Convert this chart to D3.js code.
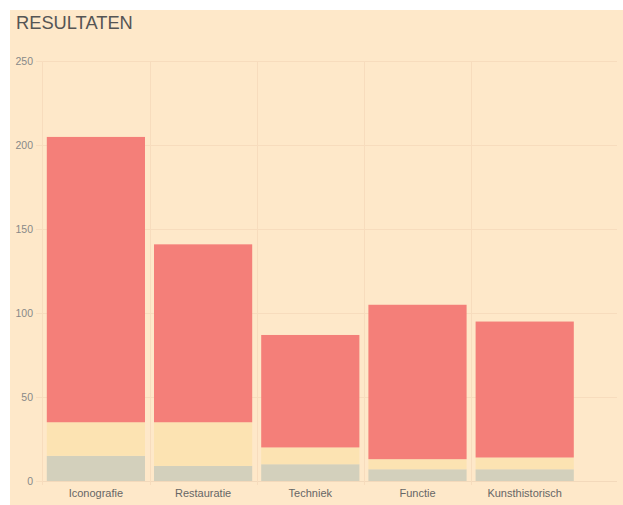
<!DOCTYPE html>
<html>
<head>
<meta charset="utf-8">
<script src="https://cdn.jsdelivr.net/npm/d3@7"></script>
<style>
  html, body { margin: 0; padding: 0; background: #ffffff; }
  svg { display: block; }
</style>
</head>
<body>
<svg id="chart" width="623" height="505"></svg>
<script>
const categories = ["Iconografie", "Restauratie", "Techniek", "Functie", "Kunsthistorisch"];
const seriesNames = ["Reeks 1", "Reeks 2", "Reeks 3"];
const greyValues = [15, 9, 10, 7, 7];
const yellowValues = [20, 26, 10, 6, 7];
const redValues = [170, 106, 67, 92, 81];
const yTicks = [0, 50, 100, 150, 200, 250];
const seriesColors = ["#d3d0bc", "#fce3b2", "#f47f79"];
const titleText = "RESULTATEN";

const svg = d3.select("#chart");
const W = 623, H = 505;

// panel background
svg.append("rect").attr("x", 10).attr("y", 10).attr("width", W - 10).attr("height", H - 10).attr("fill", "#fee8c9");

svg.append("text").attr("x", 16).attr("y", 29)
  .attr("font-family", "Liberation Sans, Arial, sans-serif")
  .attr("font-size", 18.3).attr("fill", "#555")
  .text(titleText);

const plotLeft = 42.3, bandStep = 107.2, gridRight = 617;
const x = d3.scaleBand().domain(categories)
  .range([plotLeft, plotLeft + bandStep * categories.length])
  .paddingInner(0.084).paddingOuter(0.042);
const y = d3.scaleLinear().domain([0, 250]).range([481, 61.4]);

const gridColor = "#f7dcbd";
// horizontal grid
svg.append("g").selectAll("line").data(yTicks).join("line")
  .attr("x1", plotLeft).attr("x2", gridRight)
  .attr("y1", d => Math.round(y(d)) + 0.5).attr("y2", d => Math.round(y(d)) + 0.5)
  .attr("stroke", d => d === 0 ? "#f3d9bb" : gridColor).attr("stroke-width", 1);

// vertical grid at band boundaries (left edge of each band)
const bounds = categories.map((c, i) => plotLeft + i * bandStep);
svg.append("g").selectAll("line").data(bounds).join("line")
  .attr("x1", d => Math.round(d) + 0.5).attr("x2", d => Math.round(d) + 0.5)
  .attr("y1", y(250)).attr("y2", y(0) + 4)
  .attr("stroke", gridColor).attr("stroke-width", 1);

// y axis ticks and labels
svg.append("g").selectAll("line").data(yTicks).join("line")
  .attr("x1", 36).attr("x2", plotLeft)
  .attr("y1", d => Math.round(y(d)) + 0.5).attr("y2", d => Math.round(y(d)) + 0.5)
  .attr("stroke", gridColor);
svg.append("g").selectAll("text").data(yTicks).join("text")
  .attr("x", 33).attr("y", d => y(d) + 3.5)
  .attr("text-anchor", "end")
  .attr("font-family", "Liberation Sans, Arial, sans-serif")
  .attr("font-size", 10.5).attr("fill", "#888")
  .text(d => d);

// stacked data
const rows = categories.map((c, i) => ({ cat: c, s0: greyValues[i], s1: yellowValues[i], s2: redValues[i] }));
const stack = d3.stack().keys(["s0", "s1", "s2"]);
const stacked = stack(rows);

svg.append("g").selectAll("g").data(stacked).join("g")
  .attr("fill", (d, i) => seriesColors[i])
  .selectAll("rect").data(d => d).join("rect")
  .attr("x", d => x(d.data.cat))
  .attr("width", x.bandwidth())
  .attr("y", d => y(d[1]))
  .attr("height", d => y(d[0]) - y(d[1]));

// x labels
svg.append("g").selectAll("text").data(categories).join("text")
  .attr("x", d => x(d) + x.bandwidth() / 2).attr("y", 497)
  .attr("text-anchor", "middle")
  .attr("font-family", "Liberation Sans, Arial, sans-serif")
  .attr("font-size", 11).attr("fill", "#666")
  .text(d => d);
</script>
</body>
</html>
